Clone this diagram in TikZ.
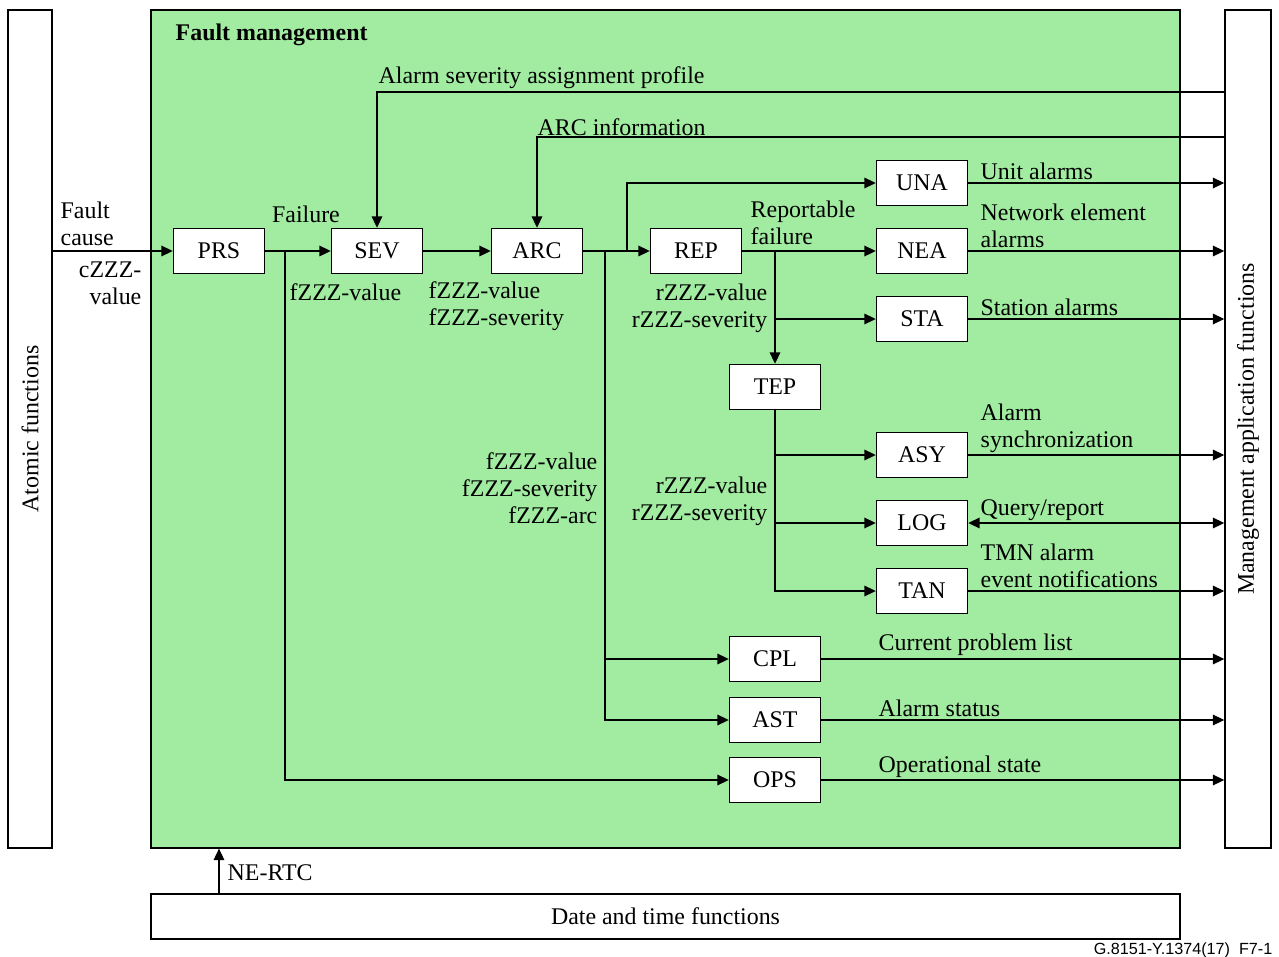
\documentclass[tikz,border=0pt]{standalone}
\usepackage{fontspec}
\setmainfont{Liberation Serif}
\newfontfamily\figfont{Liberation Sans}
\usetikzlibrary{arrows.meta}
\definecolor{fmgreen}{RGB}{161,236,161}

\begin{document}
\begin{tikzpicture}[x=0.02cm,y=-0.02cm,line width=0.8pt,
    >={Triangle[length=6.5pt,width=6pt]},
    every node/.style={font=\fontsize{13.6}{15.4}\selectfont}]
\useasboundingbox (0,0) rectangle (1279,957);

% frames
\begin{scope}[every node/.style={draw,inner sep=0pt,font=\fontsize{13.6}{15.4}\selectfont}]
    \node (atomic) [fill=white,minimum width=0.88cm,minimum height=16.76cm] at (30,429) {};
    \node (mgmt) [fill=white,minimum width=0.92cm,minimum height=16.76cm] at (1248,429) {};
    \node (fm) [fill=fmgreen,minimum width=20.58cm,minimum height=16.76cm] at (665.5,429) {};
    \node (date) [fill=white,minimum width=20.58cm,minimum height=0.9cm] at (665.5,916.5) {Date and time functions};
\end{scope}
\node [rotate=90] at (atomic) {Atomic functions};
\node [rotate=90] at (mgmt) {Management application functions};

% function blocks
\begin{scope}[every node/.style={draw,fill=white,inner sep=0pt,minimum width=1.82cm,minimum height=0.9cm,font=\fontsize{13.6}{15.4}\selectfont}]
    \node (prs) at (219,251) {PRS};
    \node (sev) at (377,251) {SEV};
    \node (arc) at (537,251) {ARC};
    \node (rep) at (696,251) {REP};
    \node (una) at (922,183) {UNA};
    \node (nea) at (922,251) {NEA};
    \node (sta) at (922,319) {STA};
    \node (tep) at (775,387) {TEP};
    \node (asy) at (922,455) {ASY};
    \node (log) at (922,523) {LOG};
    \node (tan) at (922,591) {TAN};
    \node (cpl) at (775,659) {CPL};
    \node (ast) at (775,720) {AST};
    \node (ops) at (775,780) {OPS};
\end{scope}

% branch points
\coordinate (j1) at (285,251);
\coordinate (j2) at (605,251);
\coordinate (j3) at (627,251);
\coordinate (j4) at (775,251);

% connectors
\path [->] (atomic.east |- prs) edge (prs);
\path [->] (prs) edge (sev);
\path [->] (sev) edge (arc);
\path [->] (arc) edge (rep);
\path [->] (rep) edge (nea);
\draw [->] (mgmt.west |- 0,92) -| (sev);
\draw [->] (mgmt.west |- 0,137) -| (arc);
\draw [->] (j1) |- (ops);
\draw [->] (j2) |- (ast);
\draw [->] (j2 |- cpl) -- (cpl);
\draw [->] (j3) |- (una);
\draw [->] (j4) -- (tep);
\draw [->] (j4 |- sta) -- (sta);
\draw [->] (tep) |- (tan);
\draw [->] (tep.south |- asy) -- (asy);
\draw [->] (tep.south |- log) -- (log);
\foreach \b in {una,nea,sta,asy,tan,cpl,ast,ops}
    \draw [->] (\b) -- (mgmt.west |- \b);
\draw [<->] (log) -- (mgmt.west |- log);
\draw [->] (date.north -| prs) -- (fm.south -| prs);

% labels
\begin{scope}[every node/.style={inner sep=0pt,yshift=-1.2pt,font=\fontsize{13.6}{15.4}\selectfont}]
    \node [anchor=west] at (175,33) {\textbf{Fault management}};
    \node [anchor=west] at (378,76) {Alarm severity assignment profile};
    \node [anchor=west] at (537,125) {ARC information};
    \node [anchor=west,align=left] at (60,222) {Fault\\cause};
    \node [anchor=east,align=right] at (142,281) {cZZZ-\\value};
    \node at (306,212) {Failure};
    \node [anchor=west] at (289,290) {fZZZ-value};
    \node [anchor=west,align=left] at (428,304) {fZZZ-value\\fZZZ-severity};
    \node [anchor=west,align=left] at (750,221) {Reportable\\failure};
    \node [anchor=east,align=right] at (768,306) {rZZZ-value\\rZZZ-severity};
    \node [anchor=east,align=right] at (598,486) {fZZZ-value\\fZZZ-severity\\fZZZ-arc};
    \node [anchor=east,align=right] at (768,499) {rZZZ-value\\rZZZ-severity};
    \node [anchor=west] at (980,169) {Unit alarms};
    \node [anchor=west,align=left] at (980,224) {Network element\\alarms};
    \node [anchor=west] at (980,305) {Station alarms};
    \node [anchor=west,align=left] at (980,426) {Alarm\\synchronization};
    \node [anchor=west] at (980,508) {Query/report};
    \node [anchor=west,align=left] at (980,564) {TMN alarm\\event notifications};
    \node [anchor=west] at (878,643) {Current problem list};
    \node [anchor=west] at (878,706) {Alarm status};
    \node [anchor=west] at (878,765) {Operational state};
    \node [anchor=west] at (227,871) {NE-RTC};
    \node [anchor=east,font=\figfont\fontsize{9.2}{11}\selectfont] at (1273,948) {G.8151-Y.1374(17)\ \ F7-1};
\end{scope}
\end{tikzpicture}
\end{document}
